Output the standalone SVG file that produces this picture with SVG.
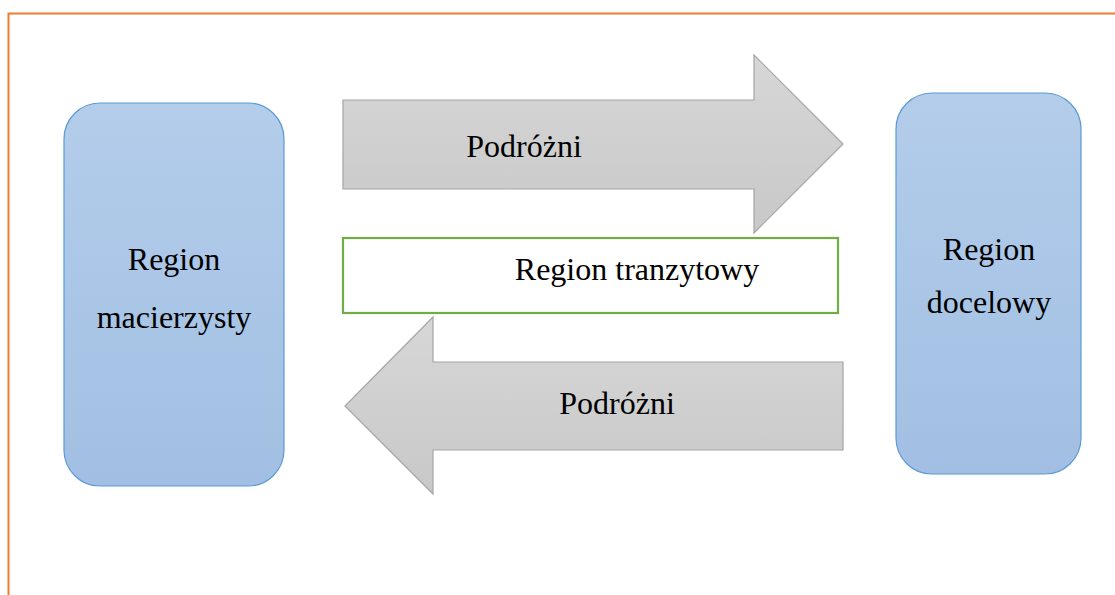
<svg xmlns="http://www.w3.org/2000/svg" width="1115" height="595" viewBox="0 0 1115 595">
  <style>
    .region { stroke: #5B9BD5; stroke-width: 1.2; fill: url(#blueFill); }
    .flow { stroke: #A5A5A5; stroke-width: 1.2; fill: url(#grayFill); }
    .transit { fill: #FFFFFF; stroke: #70AD47; stroke-width: 2.2; }
    .label { font-family: "Liberation Serif", "Times New Roman", serif; font-size: 32px; fill: #000000; text-anchor: middle; }
  </style>
  <defs>
    <linearGradient id="blueFill" x1="0" y1="0" x2="0" y2="1">
      <stop offset="0" stop-color="#B3CDEA"/>
      <stop offset="1" stop-color="#A2BFE3"/>
    </linearGradient>
    <linearGradient id="grayFill" x1="0" y1="0" x2="0" y2="1">
      <stop offset="0" stop-color="#D7D7D7"/>
      <stop offset="1" stop-color="#C8C8C8"/>
    </linearGradient>
  </defs>

  <rect width="1115" height="595" fill="#FFFFFF"/>
  <!-- frame -->
  <path d="M8.5 600 V13.5 H1120" fill="none" stroke="#ED7D31" stroke-width="2"/>

  <g id="connectors">
    <g id="flow-out">
      <path class="flow" d="M343 100 H754 V55 L843 144 L754 233 V189 H343 Z"/>
      <text class="label" x="524" y="157">Podróżni</text>
    </g>
    <g id="flow-back">
      <path class="flow" d="M843 362 H433 V317 L345 406 L433 494 V450 H843 Z"/>
      <text class="label" x="617" y="414">Podróżni</text>
    </g>
  </g>

  <g id="origin">
    <rect class="region" x="64" y="103" width="220" height="383" rx="36" ry="36"/>
    <text class="label" x="174" y="270">Region</text>
    <text class="label" x="174" y="328">macierzysty</text>
  </g>

  <g id="transit">
    <rect class="transit" x="343" y="238" width="495" height="75"/>
    <text class="label" x="637" y="280">Region tranzytowy</text>
  </g>

  <g id="destination">
    <rect class="region" x="896" y="93" width="185" height="381" rx="36" ry="36"/>
    <text class="label" x="989" y="260">Region</text>
    <text class="label" x="989" y="313">docelowy</text>
  </g>
</svg>
